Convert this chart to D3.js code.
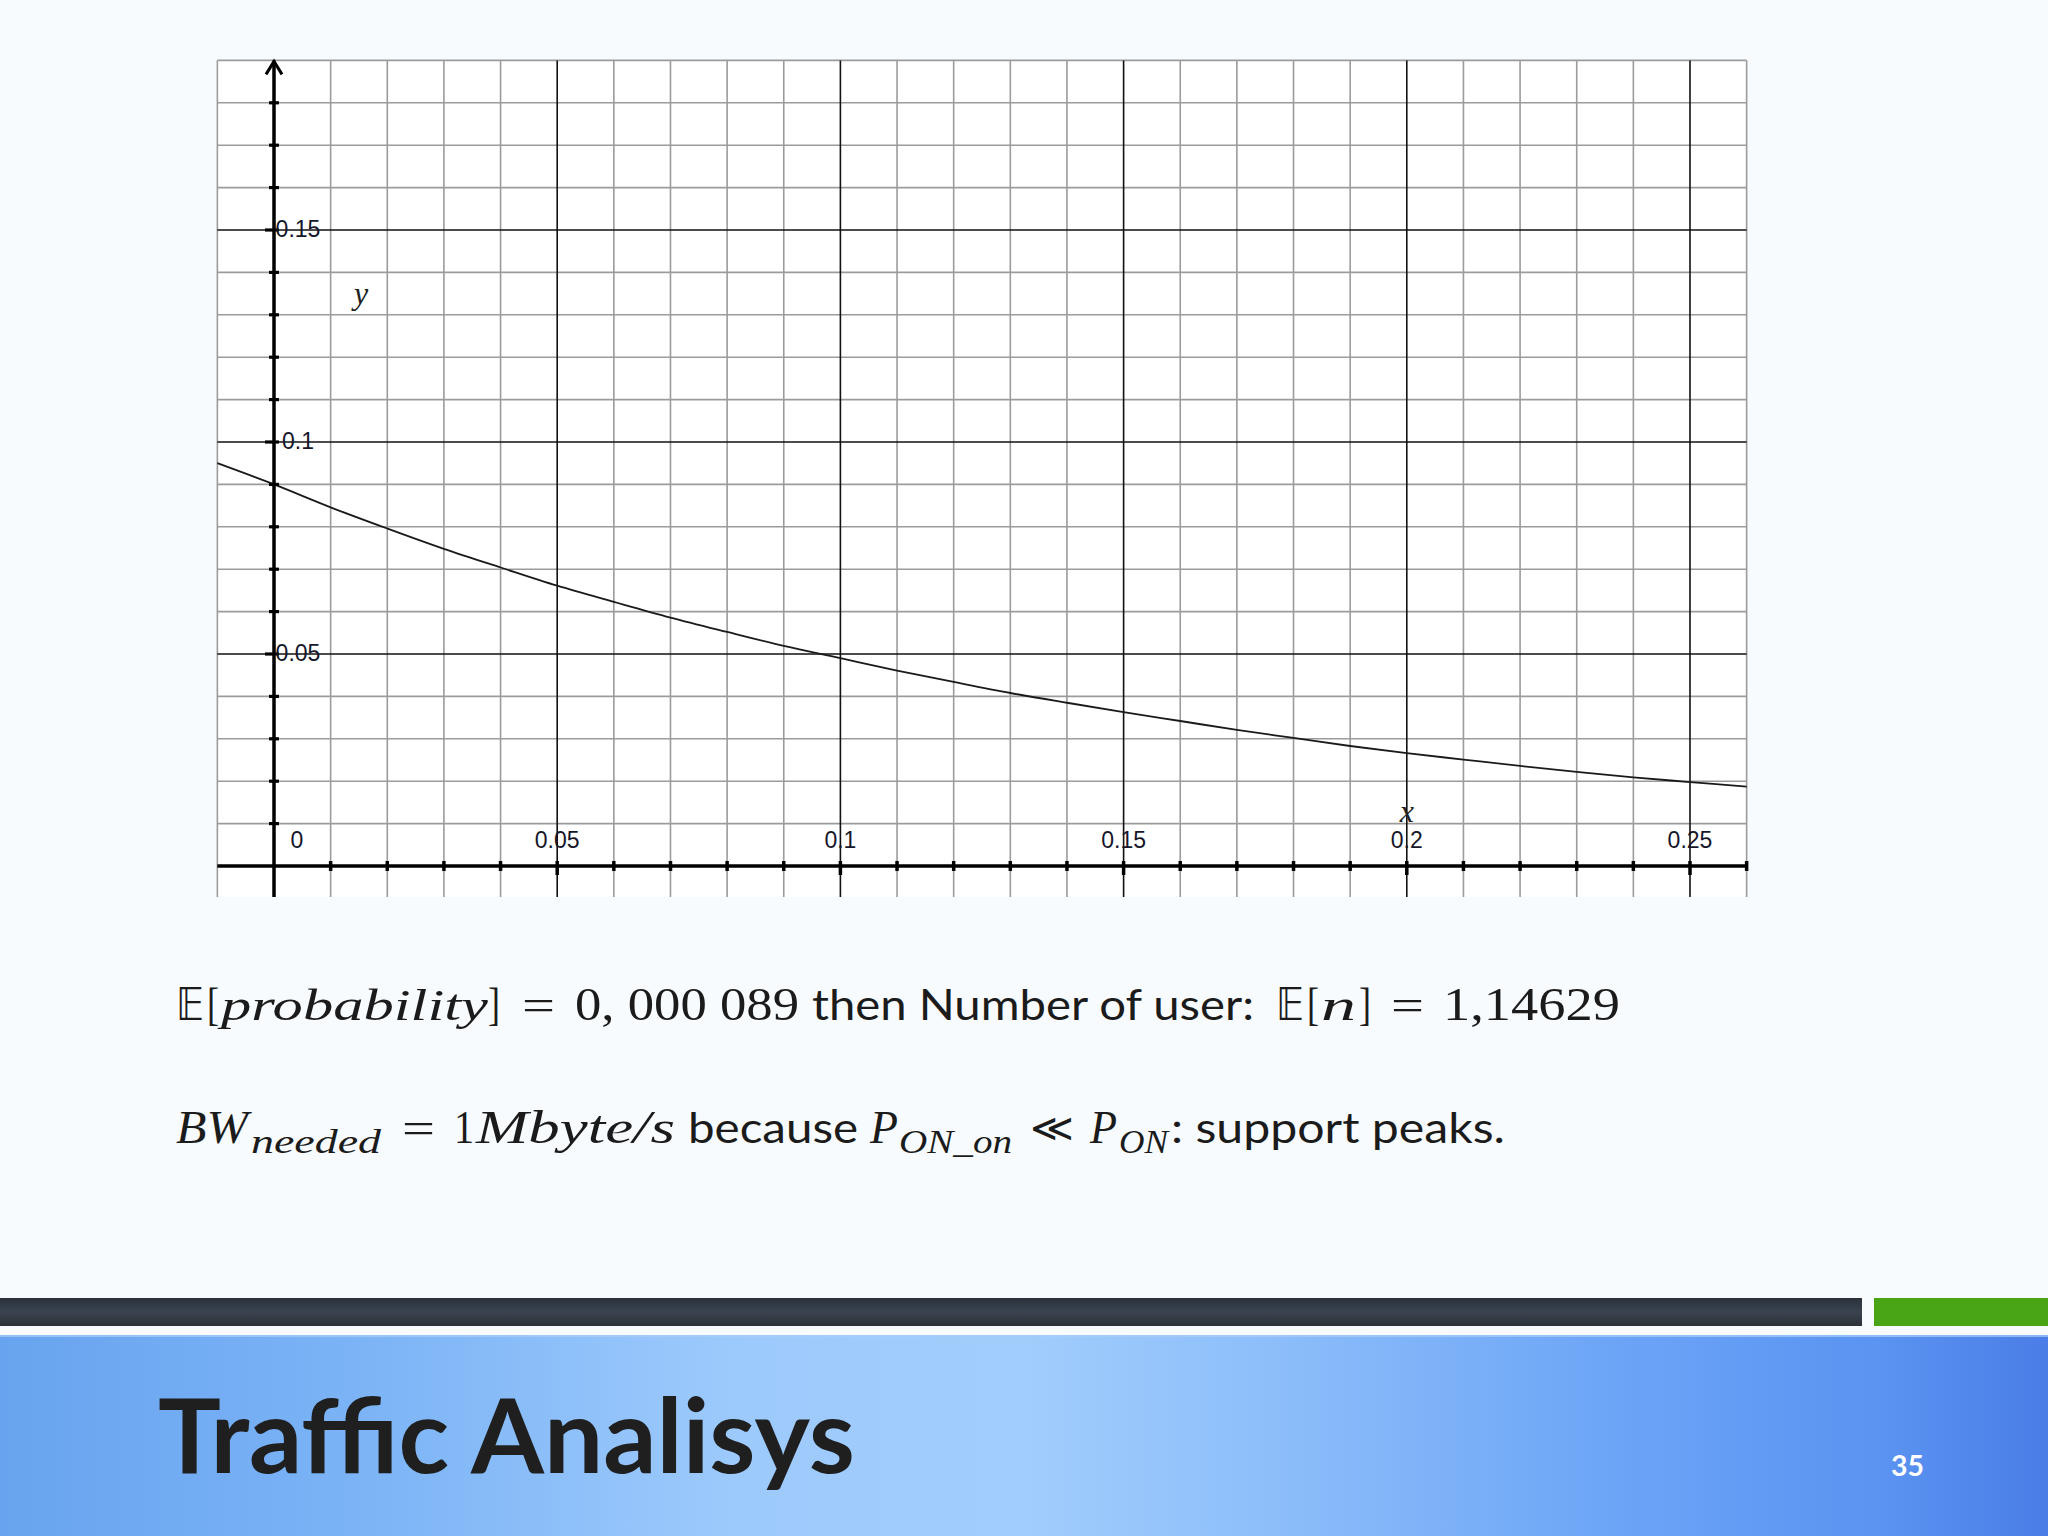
<!DOCTYPE html>
<html><head><meta charset="utf-8">
<script src="https://cdn.jsdelivr.net/npm/d3@7/dist/d3.min.js"></script>
<style>
html,body{margin:0;padding:0;background:#f8fbfd;}
svg{display:block;}
</style></head>
<body>
<svg id="c" width="2048" height="1536"></svg>
<script>
// ---- data ----
const curveX = [-0.01,0,0.01,0.02,0.03,0.04,0.05,0.06,0.07,0.08,0.09,0.10,0.11,0.12,0.13,0.14,0.15,0.16,0.17,0.18,0.19,0.20,0.21,0.22,0.23,0.24,0.25,0.26];
const curveY = [0.0950,0.0900,0.0846,0.0796,0.0748,0.0704,0.0661,0.0623,0.0586,0.0552,0.0519,0.0490,0.0461,0.0434,0.0408,0.0385,0.0363,0.0342,0.0321,0.0302,0.0283,0.0266,0.0251,0.0236,0.0222,0.0209,0.0198,0.0187];
const xTickLabels = ["0","0.05","0.1","0.15","0.2","0.25"];
const xTickValues = [0,0.05,0.10,0.15,0.20,0.25];
const yTickLabels = ["0.05","0.1","0.15"];
const yTickValues = [0.05,0.10,0.15];
const xDomain = [-0.01, 0.26];
const yDomainTop = 0.19;
const titleText = "Traffic Analisys";
const pageNumber = "35";

const svg = d3.select("#c");

// ---- scales ----
const x = d3.scaleLinear().domain([0, 0.25]).range([274, 1690]);
const y = d3.scaleLinear().domain([0, 0.15]).range([866, 230]);
const yBottom = 897;

const minorX = d3.range(-1, 27).map(i => +(i*0.01).toFixed(2));
const minorY = d3.range(1, 20).map(i => +(i*0.01).toFixed(2));
const isMajor = v => Math.abs(Math.round(v*100) % 5) === 0;

const g = svg.append("g");
g.append("rect").attr("x", x(xDomain[0])).attr("y", y(yDomainTop))
  .attr("width", x(xDomain[1]) - x(xDomain[0])).attr("height", yBottom - y(yDomainTop))
  .attr("fill", "#ffffff");

// minor grid
g.selectAll("line.vx").data(minorX.filter(v => !isMajor(v) || v === 0)).join("line")
  .attr("x1", d => x(d)).attr("x2", d => x(d))
  .attr("y1", y(yDomainTop)).attr("y2", yBottom)
  .attr("stroke", "#9b9b9b").attr("stroke-width", 1.6);
g.selectAll("line.hy").data(minorY.filter(v => !isMajor(v))).join("line")
  .attr("x1", x(xDomain[0])).attr("x2", x(xDomain[1]))
  .attr("y1", d => y(d)).attr("y2", d => y(d))
  .attr("stroke", "#9b9b9b").attr("stroke-width", 1.6);
// major grid
g.selectAll("line.mx").data(minorX.filter(v => isMajor(v) && v !== 0)).join("line")
  .attr("x1", d => x(d)).attr("x2", d => x(d))
  .attr("y1", y(yDomainTop)).attr("y2", yBottom)
  .attr("stroke", "#111").attr("stroke-width", 1.6);
g.selectAll("line.my").data(minorY.filter(v => isMajor(v))).join("line")
  .attr("x1", x(xDomain[0])).attr("x2", x(xDomain[1]))
  .attr("y1", d => y(d)).attr("y2", d => y(d))
  .attr("stroke", "#111").attr("stroke-width", 1.6);

// curve
const line = d3.line().x((d,i) => x(curveX[i])).y(d => y(d)).curve(d3.curveCatmullRom);
g.append("path").datum(curveY).attr("d", line)
  .attr("fill", "none").attr("stroke", "#1a1a1a").attr("stroke-width", 1.8);

// axes
g.append("line").attr("x1", x(xDomain[0])).attr("x2", x(xDomain[1]))
  .attr("y1", y(0)).attr("y2", y(0)).attr("stroke", "#000").attr("stroke-width", 3.5);
g.append("line").attr("x1", x(0)).attr("x2", x(0))
  .attr("y1", y(yDomainTop)).attr("y2", yBottom).attr("stroke", "#000").attr("stroke-width", 3.5);
g.append("path")
  .attr("d", `M${x(0)-8},${y(yDomainTop)+14} L${x(0)},${y(yDomainTop)+1} L${x(0)+8},${y(yDomainTop)+14}`)
  .attr("fill", "none").attr("stroke", "#000").attr("stroke-width", 3);

// x-axis ticks
const xt = minorX.filter(v => v > 0);
g.selectAll("line.xt").data(xt).join("line")
  .attr("x1", d => x(d)).attr("x2", d => x(d))
  .attr("y1", d => y(0) - 5).attr("y2", d => y(0) + (isMajor(d) ? 9 : 5))
  .attr("stroke", "#000").attr("stroke-width", 3.5);
// y-axis ticks
const yt = minorY.filter(v => v < 0.19);
g.selectAll("line.yt").data(yt).join("line")
  .attr("x1", d => x(0) - (isMajor(d) ? 9 : 5)).attr("x2", x(0) + 5)
  .attr("y1", d => y(d)).attr("y2", d => y(d))
  .attr("stroke", "#000").attr("stroke-width", 3.2);

// tick labels
const LF = "Liberation Sans, Arial, sans-serif";
g.selectAll("text.xl").data(xTickValues).join("text")
  .attr("x", (d,i) => i === 0 ? x(0) + 23 : x(d)).attr("y", y(0) - 18)
  .attr("text-anchor", "middle")
  .attr("font-family", LF).attr("font-size", 23).attr("fill", "#16162a")
  .text((d,i) => xTickLabels[i]);
g.selectAll("text.yl").data(yTickValues).join("text")
  .attr("x", x(0) + 24).attr("y", d => y(d) + 7)
  .attr("text-anchor", "middle")
  .attr("font-family", LF).attr("font-size", 23).attr("fill", "#16162a")
  .text((d,i) => yTickLabels[i]);

// axis names
g.append("text").attr("x", 361).attr("y", 304).attr("text-anchor", "middle")
  .attr("font-family", "Liberation Serif, serif").attr("font-style", "italic").attr("font-size", 32)
  .attr("fill", "#222").text("y");
g.append("text").attr("x", x(0.2)).attr("y", 822).attr("text-anchor", "middle")
  .attr("font-family", "Liberation Serif, serif").attr("font-style", "italic").attr("font-size", 32)
  .attr("fill", "#222").text("x");

// ---- formula text ----
const MATH = "Liberation Serif, DejaVu Serif, serif";
const DS = "DejaVu Sans, DejaVu Serif, sans-serif";
const TXT = "Lato, Open Sans, sans-serif";
function seg(t, x0, x1, base, fam, size, italic, fit) {
  const e = svg.append("text").attr("x", x0).attr("y", base)
    .attr("font-family", fam).attr("font-size", size)
    .attr("font-style", italic ? "italic" : "normal").attr("fill", "#1b1b1b").text(t);
  if (fit) e.attr("textLength", x1 - x0).attr("lengthAdjust", "spacingAndGlyphs");
  return e;
}
const b1 = 1020, b2 = 1143;
seg("𝔼", 176, 204, b1, DS, 44, false, true);
seg("[", 207, 219, b1, MATH, 46, false, true);
seg("probability", 221, 488, b1, MATH, 44, true, true);
seg("]", 488, 500, b1, MATH, 46, false, true);
seg("=", 522, 555, b1, MATH, 44, false, true);
seg("0, 000 089", 575, 799, b1, MATH, 46, false, true);
seg("then Number of user:", 812, 1254, b1, TXT, 43, false, true);
seg("𝔼", 1276, 1304, b1, DS, 44, false, true);
seg("[", 1307, 1319, b1, MATH, 46, false, true);
seg("n", 1321, 1356, b1, MATH, 44, true, true);
seg("]", 1359, 1371, b1, MATH, 46, false, true);
seg("=", 1391, 1424, b1, MATH, 44, false, true);
seg("1,14629", 1443, 1620, b1, MATH, 46, false, true);

seg("BW", 176, 248, b2, MATH, 46, true, true);
seg("needed", 251, 381, b2 + 10, MATH, 33, true, true);
seg("=", 402, 435, b2, MATH, 44, false, true);
seg("1", 454, 474, b2, MATH, 46, false, true);
seg("Mbyte/s", 476, 675, b2, MATH, 46, true, true);
seg("because", 688, 858, b2, TXT, 43, false, true);
seg("P", 870, 898, b2, MATH, 46, true, true);
seg("ON_on", 899, 1012, b2 + 10, MATH, 33, true, true);
seg("≪", 1030, 1074, b2 - 2, DS, 38, false, true);
seg("P", 1090, 1117, b2, MATH, 46, true, true);
seg("ON", 1119, 1168, b2 + 10, MATH, 33, true, true);
seg(": support peaks.", 1171, 1505, b2, TXT, 43, false, true);

// ---- footer ----
const defs = svg.append("defs");
const dg = defs.append("linearGradient").attr("id", "dark").attr("x1", 0).attr("x2", 0).attr("y1", 0).attr("y2", 1);
dg.append("stop").attr("offset", 0).attr("stop-color", "#2a313b");
dg.append("stop").attr("offset", 0.5).attr("stop-color", "#3a4350");
dg.append("stop").attr("offset", 1).attr("stop-color", "#2b3038");
svg.append("rect").attr("x", 0).attr("y", 1298).attr("width", 1862).attr("height", 28).attr("fill", "url(#dark)");
svg.append("rect").attr("x", 1874).attr("y", 1298).attr("width", 174).attr("height", 28).attr("fill", "#4aa516");

const bg = defs.append("linearGradient").attr("id", "blue").attr("x1", 0).attr("x2", 1).attr("y1", 0).attr("y2", 0);
[[0, "#68a3ef"], [0.18, "#7cb4f6"], [0.36, "#9dcafc"], [0.5, "#a1cdfc"], [0.62, "#8dbefa"], [0.8, "#6aa3f6"], [0.92, "#5a93f1"], [1, "#4a7de6"]]
  .forEach(s => bg.append("stop").attr("offset", s[0]).attr("stop-color", s[1]));
svg.append("rect").attr("x", 0).attr("y", 1335).attr("width", 2048).attr("height", 201).attr("fill", "url(#blue)");
svg.append("rect").attr("x", 0).attr("y", 1335).attr("width", 2048).attr("height", 2).attr("fill", "#a8cdf8").attr("opacity", 0.7);

svg.append("text").attr("x", 158).attr("y", 1473)
  .attr("font-family", "Lato, Open Sans, sans-serif").attr("font-weight", 700).attr("font-size", 104)
  .attr("fill", "#1f1f1f").attr("textLength", 697).attr("lengthAdjust", "spacingAndGlyphs").text(titleText);
svg.append("text").attr("x", 1891).attr("y", 1476)
  .attr("font-family", "Lato, Open Sans, sans-serif").attr("font-weight", 700).attr("font-size", 29)
  .attr("fill", "#ffffff").attr("textLength", 33).attr("lengthAdjust", "spacingAndGlyphs").text(pageNumber);
</script>
</body></html>
